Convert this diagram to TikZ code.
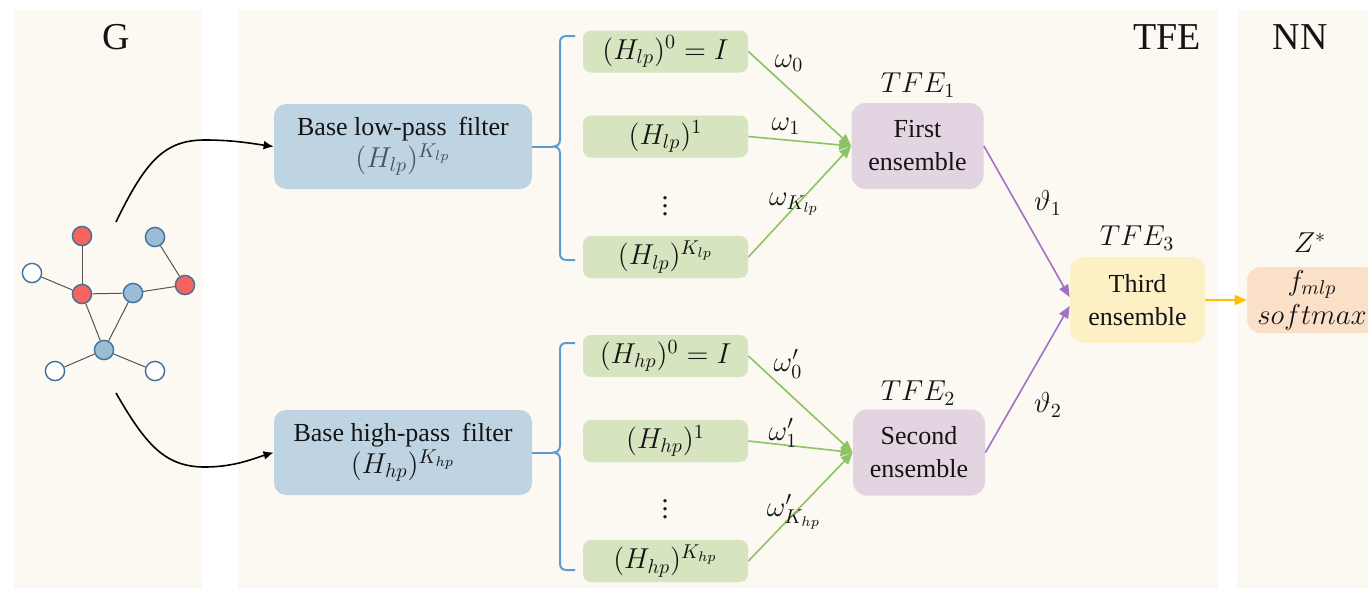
\documentclass[tikz,border=0pt]{standalone}
\usepackage[no-math]{fontspec}
\setmainfont{Liberation Serif}
\usetikzlibrary{arrows.meta,calc}

\definecolor{panel}{RGB}{251,249,242}
\definecolor{bluebox}{RGB}{190,212,226}
\definecolor{greenbox}{RGB}{214,229,191}
\definecolor{lilacbox}{RGB}{226,212,224}
\definecolor{yellowbox}{RGB}{253,240,197}
\definecolor{peachbox}{RGB}{250,224,201}
\definecolor{bracecol}{RGB}{91,155,213}
\definecolor{greenline}{RGB}{140,196,100}
\definecolor{purpleline}{RGB}{162,112,200}
\definecolor{orangeline}{RGB}{255,192,0}
\definecolor{gblue}{RGB}{155,190,214}
\definecolor{gred}{RGB}{246,98,92}
\definecolor{gstroke}{RGB}{65,113,156}
\definecolor{gedge}{RGB}{85,85,85}
\definecolor{slatetext}{RGB}{68,84,106}
\definecolor{ink}{RGB}{20,20,20}

\begin{document}
\begin{tikzpicture}[x=0.5pt,y=-0.5pt,
  every node/.style={text=ink},
  paneltitle/.style={font=\fontsize{19}{22}\selectfont},
  basebox/.style={rounded corners=6pt, fill=bluebox, minimum width=129pt,
    minimum height=42.5pt, align=center, inner sep=1pt,
    font=\fontsize{13}{17}\selectfont},
  powbox/.style={rounded corners=4pt, fill=greenbox, minimum width=82.5pt,
    minimum height=21pt, inner sep=0pt, font=\fontsize{14}{16}\selectfont},
  ensbox/.style={rounded corners=7pt, minimum width=66pt, minimum height=43pt,
    align=center, inner sep=1pt, font=\fontsize{13}{16.5}\selectfont},
  mathlabel/.style={font=\fontsize{14}{16}\selectfont, inner sep=0pt},
  gnode/.style={circle, minimum size=9.6pt, inner sep=0pt, line width=0.7pt, draw=gstroke},
  gedgeline/.style={draw=gedge, line width=0.5pt},
  feedarrow/.style={draw=black, line width=0.8pt, -{Latex[length=5pt,width=4.5pt]}},
  brace/.style={draw=bracecol, line width=1pt, line join=round},
  greenarrow/.style={draw=greenline, line width=0.8pt, -{Triangle[length=6pt,width=5pt]}},
  purplearrow/.style={draw=purpleline, line width=0.8pt, -{Triangle[length=6pt,width=5pt]}},
  orangearrow/.style={draw=orangeline, line width=0.9pt, -{Triangle[length=6pt,width=5pt]}}
]
\useasboundingbox (0,0) rectangle (1368,590);
\clip (0,0) rectangle (1368,590);
\fill[white] (0,0) rectangle (1368,590);

% column panels
\fill[panel] (14,10) rectangle (202,588);
\fill[panel] (238,10) rectangle (1218,588);
\fill[panel] (1237,10) rectangle (1368,588);
\node[paneltitle] (tG) at (116,37) {G};
\node[paneltitle] (tTFE) at (1167,37) {TFE};
\node[paneltitle] (tNN) at (1300,37) {NN};

% input graph
\node[gnode, fill=gred]  (v1) at (82,236) {};
\node[gnode, fill=gblue] (v2) at (155,237) {};
\node[gnode, fill=white] (v3) at (32,273) {};
\node[gnode, fill=gred]  (v4) at (82,294) {};
\node[gnode, fill=gblue] (v5) at (133,293) {};
\node[gnode, fill=gred]  (v6) at (185,285) {};
\node[gnode, fill=gblue] (v7) at (104,350) {};
\node[gnode, fill=white] (v8) at (55,371) {};
\node[gnode, fill=white] (v9) at (155,371) {};
\draw[gedgeline] (v1) -- (v4);
\draw[gedgeline] (v3) -- (v4);
\draw[gedgeline] (v4) -- (v5);
\draw[gedgeline] (v5) -- (v6);
\draw[gedgeline] (v6) -- (v2);
\draw[gedgeline] (v4) -- (v7);
\draw[gedgeline] (v5) -- (v7);
\draw[gedgeline] (v7) -- (v8);
\draw[gedgeline] (v7) -- (v9);

% base filters
\node[basebox] (lp) at (403,146.5)
  {Base low-pass\hspace{0.45em}filter\\[-1pt]{\fontsize{14}{16}\selectfont\color{slatetext}$(H_{lp})^{K_{lp}}$}};
\node[basebox] (hp) at (403,452.5)
  {Base high-pass\hspace{0.45em}filter\\[-1pt]{\fontsize{14}{16}\selectfont$(H_{hp})^{K_{hp}}$}};

\coordinate (gtop) at (116,222);
\coordinate (gbot) at (116,393);
\draw[feedarrow] (gtop) .. controls (146,160) and (165,140) .. (205,140)
  .. controls (235,140) and (255,144) .. (lp.west);
\draw[feedarrow] (gbot) .. controls (146,445) and (165,467) .. (205,467)
  .. controls (235,467) and (255,458) .. (hp.west);

% powers of the low-pass filter
\node[powbox] (l0) at (665.5,51.5) {$(H_{lp})^0=I$};
\node[powbox] (l1) at (665.5,136.5) {$(H_{lp})^1$};
\node[mathlabel] (ld) at (665,200) {$\vdots$};
\node[powbox] (lk) at (665.5,257) {$(H_{lp})^{K_{lp}}$};

% powers of the high-pass filter
\node[powbox] (h0) at (665.5,356) {$(H_{hp})^0=I$};
\node[powbox] (h1) at (665.5,441) {$(H_{hp})^1$};
\node[mathlabel] (hd) at (665,503) {$\vdots$};
\node[powbox] (hk) at (665.5,561) {$(H_{hp})^{K_{hp}}$};

% braces gathering the powers
\coordinate (lb) at (553,146.5);
\coordinate (hb) at (553,452.5);
\draw[brace] (lp.east) -- (lb);
\draw[brace] (575,36) -- (567,36) .. controls (562,36) and (560,38) .. (560,43)
  -- (560,139.5) .. controls (560,144.5) and (557,146.5) .. (lb)
  .. controls (557,146.5) and (560,148.5) .. (560,153.5)
  -- (560,253) .. controls (560,258) and (562,260) .. (567,260) -- (575,260);
\draw[brace] (hp.east) -- (hb);
\draw[brace] (575,343) -- (567,343) .. controls (562,343) and (560,345) .. (560,350)
  -- (560,445.5) .. controls (560,450.5) and (557,452.5) .. (hb)
  .. controls (557,452.5) and (560,454.5) .. (560,459.5)
  -- (560,563) .. controls (560,568) and (562,570) .. (567,570) -- (575,570);

% ensembles
\node[ensbox, fill=lilacbox] (t1) at (917.5,146) {First\\ensemble};
\node[ensbox, fill=lilacbox] (t2) at (919,452.5) {Second\\ensemble};
\node[ensbox, fill=yellowbox, minimum width=67.5pt] (t3) at (1137.5,300) {Third\\ensemble};
\node[mathlabel] (t1l) at (918,85) {$TFE_1$};
\node[mathlabel] (t2l) at (918,393) {$TFE_2$};
\node[mathlabel] (t3l) at (1137,238) {$TFE_3$};

% weighted sums
\draw[greenarrow] (l0.east) -- (t1.west);
\draw[greenarrow] (l1.east) -- (t1.west);
\draw[greenarrow] (lk.east) -- (t1.west);
\draw[greenarrow] (h0.east) -- (t2.west);
\draw[greenarrow] (h1.east) -- (t2.west);
\draw[greenarrow] (hk.east) -- (t2.west);
\node[mathlabel] (w0) at (789,63) {$\omega_0$};
\node[mathlabel] (w1) at (786,126) {$\omega_1$};
\node[mathlabel] (wk) at (794,204) {$\omega_{K_{lp}}$};
\node[mathlabel] (w0p) at (788,364) {$\omega'_0$};
\node[mathlabel] (w1p) at (783,433) {$\omega'_1$};
\node[mathlabel] (wkp) at (794,512) {$\omega'_{K_{hp}}$};

\draw[purplearrow] (t1.east) -- ($(t3.west)+(0,-3)$);
\draw[purplearrow] (t2.east) -- ($(t3.west)+(0,6)$);
\node[mathlabel] (th1) at (1048,203) {$\vartheta_1$};
\node[mathlabel] (th2) at (1048,405) {$\vartheta_2$};

% output head
\node[rounded corners=7pt, fill=peachbox, minimum width=65pt, minimum height=33pt,
  align=center, inner sep=1pt, font=\fontsize{14}{17}\selectfont] (nn) at (1312,300)
  {$f_{mlp}$\\$softmax$};
\node[mathlabel] (zl) at (1310,243) {$Z^*$};
\draw[orangearrow] (t3.east) -- (nn.west);
\end{tikzpicture}
\end{document}
